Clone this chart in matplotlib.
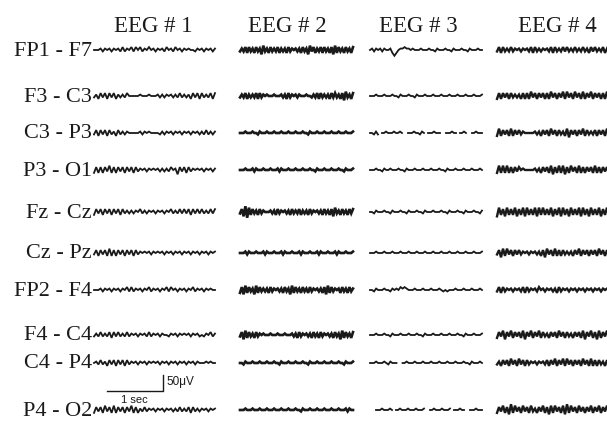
import numpy as np
import matplotlib
matplotlib.use("Agg")
import matplotlib.pyplot as plt

# channel montage (rows) and recordings (columns)
channels = ["FP1 - F7", "F3 - C3", "C3 - P3", "P3 - O1", "Fz - Cz",
            "Cz - Pz", "FP2 - F4", "F4 - C4", "C4 - P4", "P4 - O2"]
recordings = ["EEG # 1", "EEG # 2", "EEG # 3", "EEG # 4"]

# traces: one digit per sample, 4 = baseline,
# each step ~4.5 uV ; "." = faded / missing ink
UV_STEP = 4.5

eeg1 = [
    "44453545354536354636463546453545364536453545443545354535",
    "35263626362535364444454445444535354535363535263626353626",
    "36263626352635354444453545444435354535453545354535363535",
    "26262637262636263626354535454535353645163626354545354535",
    "26362636263626353535463535453545354635363636263636353636",
    "36263627262636263626354545354545354535453545354535453545",
    "44453545354535463635453546354535463645354535463545354544",
    "35363536263635363545354536354535443545354545354534354635",
    "45363526362636263545354535454535453545354535453544454544",
    "26362736272636263726253635453545354535363536263535453545",
]
eeg2 = [
    "3536263526351735263536253526354535263517362536263526172635263526",
    "3536253536263545444544453526354535444544353626353526363526173526",
    "4445444544354445444544454445444544454435444544454445444544454445",
    "4445444535444544454445354445444544454445443544454445444544354445",
    "3618072635263544453526354535263536253526354535263526173526352636",
    "4445354445444535444544453544454445354445444535444544453544454445",
    "2617263517263535263545352635172635263526354535261726354526352635",
    "3617263526354544454445444544453526354535263526354535263517263526",
    "4435444544454445444544354445444544454435444544454445444544354445",
    "4445444544454445444544454445444544354445444544454445444544453544",
]
eeg3 = [
    "45354535445202455655454445444544354445443544454435444544",
    "44454445444544354445443544454445444544454445444544454445",
    "44353.44544454454..444544354.4445444..444544.4454..445444",
    "44454435445444544354445444544454445443544454445444544454",
    "44354445443544454435444544354445444544354445443544454435",
    "44454445444544454445444544454445444544454445444544454445",
    "44354445443545465654445444544454445434344454445444544454",
    "44454445443544454445444544354445444544454445443544454445",
    "44454445435444..4454445444544454445444544454445443544454",
    "...444544454.445444544454445..44544454445.444544..4445444",
]
eeg4 = [
    "362635363545354536263535453626353636353635363526363536253626",
    "262636263535262627362636262736263727362736272637263626272636",
    "272636272636354444453526362736263527163626372635362636272627",
    "272727262636454444453526362716272716273627262636272626362727",
    "172617262716271726271727262716271726172627172617262716272617",
    "361727362636354535453526173627262635352637263626362736263626",
    "362635453545362635453645354535263545354535453545354535453545",
    "263716372636271637263726352636273626352636271637261726372617",
    "352636273627362635453545362637263727362636273627262635263635",
    "263726182736273627352637261727362718273627362637263726373636",
]

# page layout in pixels
row_y = [50, 96, 133, 170, 212, 253, 290, 335, 363, 410]
col_x0 = [94, 240, 370, 497]
col_w = [121, 113, 112, 118]
col_lw = [1.3, 1.9, 1.3, 1.7]
head_x = [153, 287, 418, 557]
PX_PER_SEC = 56
PX_PER_UV = 16 / 50


def decode(s):
    return np.array([np.nan if c == "." else (int(c) - 4) * UV_STEP for c in s])


fig = plt.figure(figsize=(6.07, 4.24), dpi=100)
ax = fig.add_axes([0, 0, 1, 1])
ax.set_xlim(0, 607)
ax.set_ylim(424, 0)
ax.axis("off")

ink = "#1a1a1a"
serif = "Liberation Serif"

for j, (name, traces) in enumerate(zip(recordings, [eeg1, eeg2, eeg3, eeg4])):
    ax.text(head_x[j], 32, name, ha="center", va="baseline",
            fontsize=16.5, family=serif, color=ink)
    for i, s in enumerate(traces):
        uv = decode(s)
        x = col_x0[j] + np.linspace(0, col_w[j], len(uv))
        y = row_y[i] - uv * PX_PER_UV
        ax.plot(x, y, color=ink, lw=col_lw[j], solid_joinstyle="miter")

for i, ch in enumerate(channels):
    ax.text(92, row_y[i] + 5.5, ch, ha="right", va="baseline",
            fontsize=16, family=serif, color=ink)

# calibration bar: 1 sec x 50 uV
bx, by = 107, 391
ax.plot([bx, bx + 1 * PX_PER_SEC, bx + 1 * PX_PER_SEC],
        [by, by, by - 50 * PX_PER_UV], color=ink, lw=1.0)
ax.text(bx + PX_PER_SEC + 3, 385, "50\u03bcV", ha="left", va="baseline",
        fontsize=8.5, family="Liberation Sans", color=ink)
ax.text(121, 403, "1 sec", ha="left", va="baseline",
        fontsize=8, family="Liberation Sans", color=ink)

fig.savefig("out.png", dpi=100)
